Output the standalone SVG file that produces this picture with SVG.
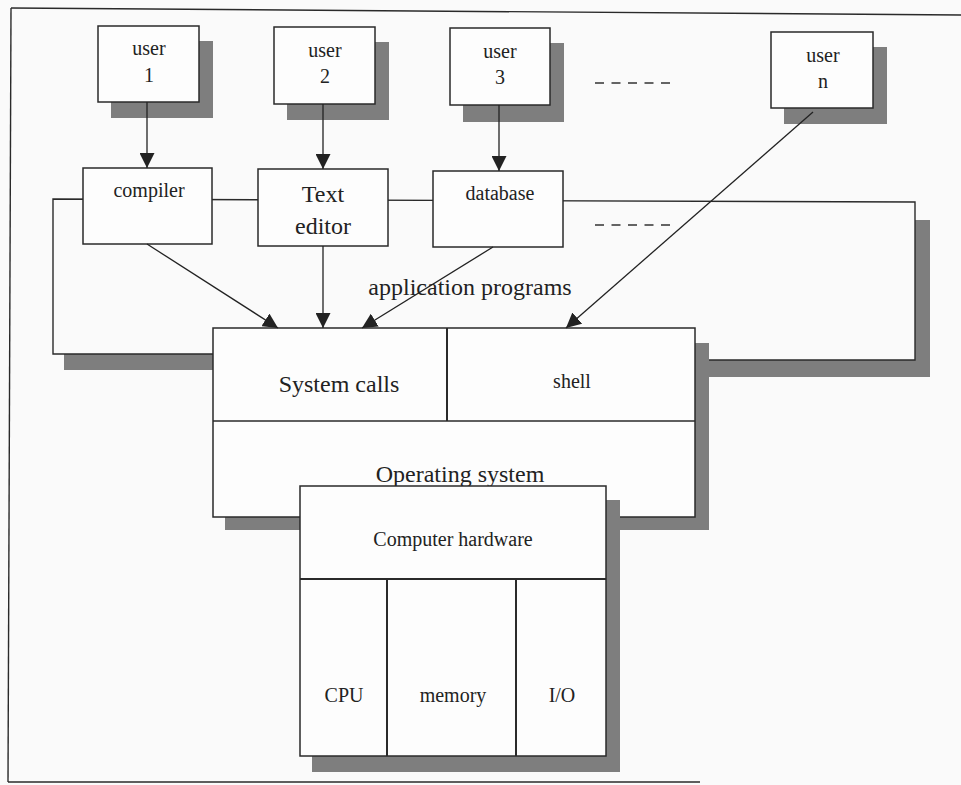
<svg xmlns="http://www.w3.org/2000/svg" width="961" height="785" viewBox="0 0 961 785">
  <defs>
    <marker id="arrow" markerUnits="userSpaceOnUse" markerWidth="15" markerHeight="15" refX="15" refY="7.5" orient="auto">
      <path d="M0,0 L15,7.5 L0,15 Z" fill="#222"/>
    </marker>
  </defs>
  <style>
    .box { fill: #fdfdfd; stroke: #2a2a2a; stroke-width: 1.5; }
    .shadow { fill: #7e7e7e; }
    .line { fill: none; stroke: #2a2a2a; stroke-width: 1.4; }
    .div { fill: none; stroke: #2a2a2a; stroke-width: 2; }
    .conn { fill: none; stroke: #222; stroke-width: 1.3; marker-end: url(#arrow); }
    .dash { fill: none; stroke: #333; stroke-width: 1.5; stroke-dasharray: 9 7.5; }
    text { font-family: "Liberation Serif", "Times New Roman", serif; fill: #222; text-anchor: middle; }
    .s20 { font-size: 20px; }
    .s24 { font-size: 24px; }
  </style>

  <rect width="961" height="785" fill="#fafafa"/>

  <!-- page frame -->
  <g id="frame">
    <path class="line" d="M11,8 L961,15"/>
    <path class="line" d="M11,8 L8,782"/>
    <path class="line" d="M8,782 L700,782"/>
  </g>

  <!-- application programs region -->
  <g id="application-programs">
    <rect class="shadow" x="64" y="354" width="149" height="16"/>
    <path class="shadow" d="M915,220 H930 V377 H695 V360 H915 Z"/>
    <path class="line" d="M213,354 H53 V199 L915,202 V360 H695"/>
    <text class="s24" x="470" y="295">application programs</text>
  </g>

  <!-- users -->
  <g id="user1">
    <rect class="shadow" x="111" y="41" width="102" height="77"/>
    <rect class="box" x="98" y="26" width="101" height="76"/>
    <text class="s20" x="149" y="55">user</text>
    <text class="s20" x="149" y="82">1</text>
  </g>
  <g id="user2">
    <rect class="shadow" x="287" y="42" width="102" height="78"/>
    <rect class="box" x="274" y="27" width="101" height="77"/>
    <text class="s20" x="325" y="57">user</text>
    <text class="s20" x="325" y="83">2</text>
  </g>
  <g id="user3">
    <rect class="shadow" x="463" y="43" width="101" height="79"/>
    <rect class="box" x="450" y="28" width="100" height="77"/>
    <text class="s20" x="500" y="58">user</text>
    <text class="s20" x="500" y="84">3</text>
  </g>
  <g id="usern">
    <rect class="shadow" x="784" y="47" width="103" height="77"/>
    <rect class="box" x="771" y="32" width="102" height="76"/>
    <text class="s20" x="823" y="62">user</text>
    <text class="s20" x="823" y="88">n</text>
  </g>

  <!-- continuation marks -->
  <g id="more">
    <path class="dash" d="M595,83 H671"/>
    <path class="dash" d="M595,225 H671"/>
  </g>

  <!-- applications -->
  <g id="compiler">
    <rect class="box" x="83" y="168" width="129" height="76"/>
    <text class="s20" x="149" y="197">compiler</text>
  </g>
  <g id="text-editor">
    <rect class="box" x="258" y="169" width="130" height="77"/>
    <text class="s24" x="323" y="202">Text</text>
    <text class="s24" x="323" y="234">editor</text>
  </g>
  <g id="database">
    <rect class="box" x="433" y="171" width="130" height="76"/>
    <text class="s20" x="500" y="200">database</text>
  </g>

  <!-- operating system -->
  <g id="operating-system">
    <rect class="shadow" x="225" y="343" width="484" height="187"/>
    <rect class="box" x="213" y="328" width="482" height="189"/>
    <path class="line" d="M213,421 H695"/>
    <path class="div" d="M447,328 V421"/>
    <text class="s24" x="339" y="392">System calls</text>
    <text class="s20" x="572" y="388">shell</text>
    <text class="s24" x="460" y="482">Operating system</text>
  </g>

  <!-- hardware -->
  <g id="computer-hardware">
    <rect class="shadow" x="312" y="500" width="308" height="272"/>
    <rect class="box" x="300" y="486" width="306" height="270"/>
    <path class="div" d="M300,579 H606 M387,579 V756 M516,579 V756"/>
    <text class="s20" x="453" y="546">Computer hardware</text>
    <text class="s20" x="344" y="702">CPU</text>
    <text class="s20" x="453" y="702">memory</text>
    <text class="s20" x="562" y="702">I/O</text>
  </g>

  <!-- connectors -->
  <g id="connectors">
    <line class="conn" x1="147" y1="102" x2="147" y2="168"/>
    <line class="conn" x1="323" y1="104" x2="323" y2="169"/>
    <line class="conn" x1="499" y1="105" x2="499" y2="171"/>
    <line class="conn" x1="147" y1="244" x2="278" y2="328"/>
    <line class="conn" x1="323" y1="246" x2="323" y2="328"/>
    <line class="conn" x1="493" y1="247" x2="362" y2="328"/>
    <line class="conn" x1="813" y1="112" x2="566" y2="328"/>
  </g>
</svg>
